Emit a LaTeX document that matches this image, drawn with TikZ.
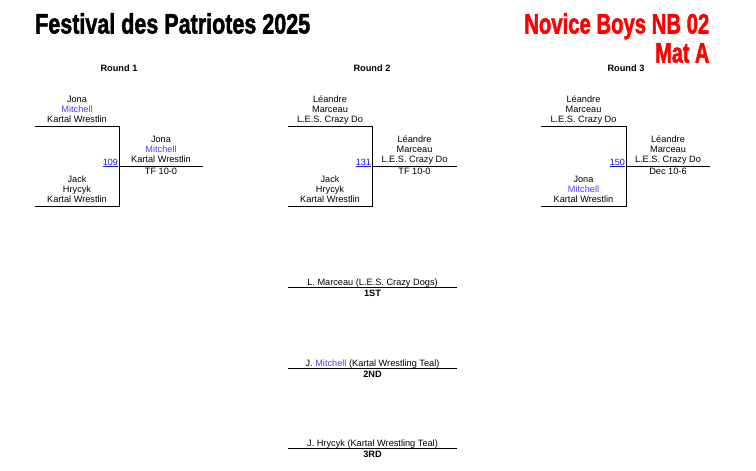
\documentclass[tikz,border=0pt]{standalone}
\usepackage{fontspec}
\usepackage{graphicx}
\setmainfont{Liberation Sans}
\newfontfamily\heavyfont[FakeBold=2]{Liberation Sans Bold}
\definecolor{mitch}{RGB}{80,60,255}
\definecolor{linkc}{RGB}{20,20,220}
\definecolor{titlered}{RGB}{255,0,0}
\tikzset{
  txt/.style={anchor=base, align=center, inner sep=0pt, font=\fontsize{9.2}{10}\selectfont},
  roundlbl/.style={anchor=base, inner sep=0pt, font=\fontsize{9.2}{10}\selectfont\bfseries},
  placelbl/.style={anchor=base, inner sep=0pt, font=\fontsize{9.2}{10}\selectfont\bfseries},
  bnum/.style={anchor=base east, inner sep=0pt, text=linkc, font=\fontsize{9}{10}\selectfont},
  bline/.style={draw=black, line width=1pt},
}
\newcommand{\mtc}{\textcolor{mitch}{Mitchell}}
\newcommand{\lnk}[1]{\underline{#1}}
\begin{document}
\begin{tikzpicture}[x=1pt,y=-1pt]
\useasboundingbox (0,0) rectangle (756,471);
% titles
\node[anchor=base west, inner sep=0pt] (title) at (35,33.5)
  {\resizebox{275pt}{\height}{\heavyfont\fontsize{28}{30}\selectfont Festival des Patriotes 2025}};
\node[anchor=base east, inner sep=0pt, text=titlered] (cat) at (709.5,33.5)
  {\resizebox{185pt}{\height}{\heavyfont\fontsize{28}{30}\selectfont Novice Boys NB 02}};
\node[anchor=base east, inner sep=0pt, text=titlered] (mat) at (709.5,62.5)
  {\resizebox{54pt}{\height}{\heavyfont\fontsize{28}{30}\selectfont Mat A}};
% round labels
\node[roundlbl] (r1) at (119,71) {Round 1};
\node[roundlbl] (r2) at (372,71) {Round 2};
\node[roundlbl] (r3) at (626,71) {Round 3};
% ---------- Round 1 ----------
\coordinate (a1) at (35,126); \coordinate (a2) at (119,126);
\coordinate (a3) at (35,206); \coordinate (a4) at (119,206);
\coordinate (a5) at (119,166); \coordinate (a6) at (203,166);
\draw[bline] (a1) -- (a2) -- (a4) -- (a3);
\draw[bline] (a5) -- (a6);
\node[txt] (r1top) at (77,122) {Jona\\\mtc\\Kartal Wrestlin};
\node[txt] (r1bot) at (77,202) {Jack\\Hrycyk\\Kartal Wrestlin};
\node[txt] (r1win) at (161,162) {Jona\\\mtc\\Kartal Wrestlin};
\node[txt] (r1res) at (161,174) {TF 10-0};
\node[bnum] (b109) at (118,165) {\lnk{109}};
% ---------- Round 2 ----------
\coordinate (b1) at (288,126); \coordinate (b2) at (372,126);
\coordinate (b3) at (288,206); \coordinate (b4) at (372,206);
\coordinate (b5) at (372,166); \coordinate (b6) at (457,166);
\draw[bline] (b1) -- (b2) -- (b4) -- (b3);
\draw[bline] (b5) -- (b6);
\node[txt] (r2top) at (330,122) {L\'eandre\\Marceau\\L.E.S. Crazy Do};
\node[txt] (r2bot) at (330,202) {Jack\\Hrycyk\\Kartal Wrestlin};
\node[txt] (r2win) at (414.5,162) {L\'eandre\\Marceau\\L.E.S. Crazy Do};
\node[txt] (r2res) at (414.5,174) {TF 10-0};
\node[bnum] (b131) at (371,165) {\lnk{131}};
% ---------- Round 3 ----------
\coordinate (c1) at (541,126); \coordinate (c2) at (626,126);
\coordinate (c3) at (541,206); \coordinate (c4) at (626,206);
\coordinate (c5) at (626,166); \coordinate (c6) at (710,166);
\draw[bline] (c1) -- (c2) -- (c4) -- (c3);
\draw[bline] (c5) -- (c6);
\node[txt] (r3top) at (583.5,122) {L\'eandre\\Marceau\\L.E.S. Crazy Do};
\node[txt] (r3bot) at (583.5,202) {Jona\\\mtc\\Kartal Wrestlin};
\node[txt] (r3win) at (668,162) {L\'eandre\\Marceau\\L.E.S. Crazy Do};
\node[txt] (r3res) at (668,174) {Dec 10-6};
\node[bnum] (b150) at (625,165) {\lnk{150}};
% ---------- Placements ----------
\coordinate (p1a) at (288,287.5); \coordinate (p1b) at (457,287.5);
\coordinate (p2a) at (288,368.5); \coordinate (p2b) at (457,368.5);
\coordinate (p3a) at (288,448.5); \coordinate (p3b) at (457,448.5);
\draw[bline] (p1a) -- (p1b);
\draw[bline] (p2a) -- (p2b);
\draw[bline] (p3a) -- (p3b);
\node[txt] (n1) at (372.5,285) {L. Marceau (L.E.S. Crazy Dogs)};
\node[placelbl] (l1) at (372.5,296) {1ST};
\node[txt] (n2) at (372.5,366) {J. \mtc{} (Kartal Wrestling Teal)};
\node[placelbl] (l2) at (372.5,377) {2ND};
\node[txt] (n3) at (372.5,446) {J. Hrycyk (Kartal Wrestling Teal)};
\node[placelbl] (l3) at (372.5,457) {3RD};
\end{tikzpicture}
\end{document}
